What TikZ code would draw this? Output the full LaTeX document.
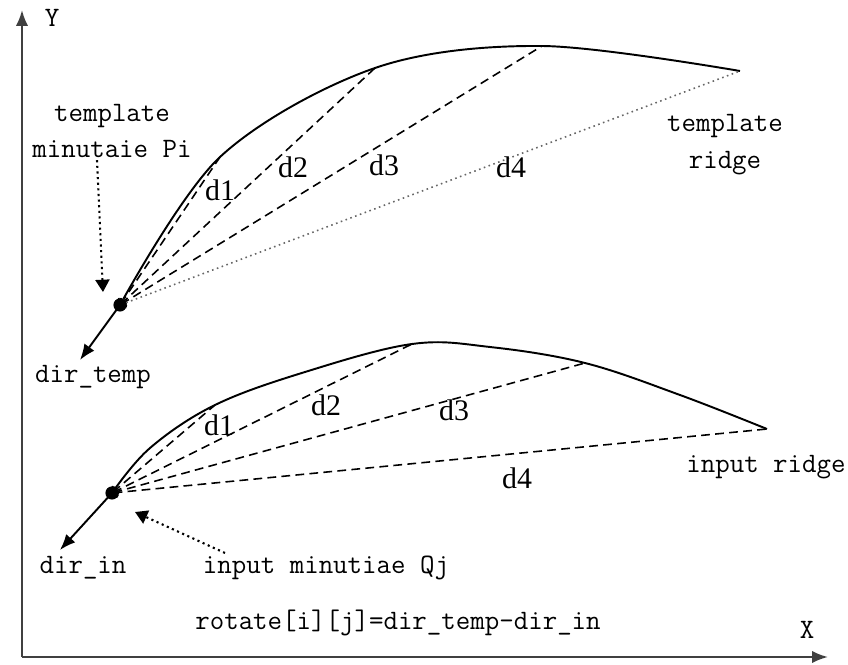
\documentclass[tikz,border=0pt]{standalone}
\usepackage{fontspec}
\setmainfont{Liberation Serif}
\usetikzlibrary{arrows.meta}
\begin{document}
\begin{tikzpicture}[x=0.02cm, y=-0.02cm,
    lbl/.style={font=\ttfamily\fontsize{16}{21}\selectfont, inner sep=1pt, align=center},
    dlbl/.style={font=\fontsize{17}{19}\selectfont, inner sep=1pt},
    axis/.style={line width=1.3pt, black!75, -{Latex[length=9pt,width=7pt]}},
    ridge/.style={line width=1.1pt},
    dist/.style={dash pattern=on 5pt off 3pt, line width=0.9pt, {To[length=3pt]}-},
    far/.style={dotted, line width=0.9pt, black!60, {To[length=3pt]}-},
    dir/.style={line width=1.1pt, -{Latex[length=9pt,width=7pt]}},
    hint/.style={dotted, line width=1.2pt, -{Triangle[length=7pt,width=8pt]}},
    dot/.style={circle, fill, inner sep=0pt, minimum size=7.5pt}]
    \useasboundingbox (0,0) rectangle (848,665);
    % axes
    \coordinate (o) at (22,657); \coordinate (ytip) at (22,10); \coordinate (xtip) at (828,657);
    \draw[axis] (o) -- (ytip); \draw[axis] (o) -- (xtip);
    \node[lbl] (ylab) at (52,18) {Y}; \node[lbl] (xlab) at (807,630) {X};
    % template ridge
    \coordinate (Pi) at (120,305);
    \coordinate (t1) at (220,157); \coordinate (t2) at (375,68); \coordinate (t3) at (542,46); \coordinate (t4) at (740,71);
    \draw[ridge] plot[smooth, tension=0.55] coordinates {(Pi) (t1) (t2) (t3) (t4)};
    \draw[dist] (Pi) -- (t1); \draw[dist] (Pi) -- (t2); \draw[dist] (Pi) -- (t3);
    \draw[far] (Pi) -- (t4);
    \node[dot] (Pdot) at (Pi) {};
    \node[dlbl] (td1) at (220,190) {d1}; \node[dlbl] (td2) at (293,167) {d2};
    \node[dlbl] (td3) at (384,165) {d3}; \node[dlbl] (td4) at (511,167) {d4};
    \node[lbl] (tmin) at (112,131) {template\\minutaie Pi};
    \node[lbl] (tridge) at (725,145) {template\\ridge};
    \node[lbl] (dtemp) at (93,377) {dir\_temp};
    \coordinate (tdir) at (80,360); \coordinate (thint) at (103,292);
    \draw[dir] (Pi) -- (tdir);
    \draw[hint] (tmin.south -| 97,0) -- (thint);
    % input ridge
    \coordinate (Qj) at (112,493);
    \coordinate (q1) at (215,405); \coordinate (q2) at (412,344); \coordinate (q3) at (585,363); \coordinate (q4) at (767,429);
    \draw[ridge] plot[smooth, tension=0.6] coordinates {(Qj) (150,448) (q1) (305,372) (q2) (490,347) (q3) (680,395) (q4)};
    \draw[dist] (Qj) -- (q1); \draw[dist] (Qj) -- (q2); \draw[dist] (Qj) -- (q3); \draw[dist] (Qj) -- (q4);
    \node[dot] (Qdot) at (Qj) {};
    \node[dlbl] (id1) at (219,425) {d1}; \node[dlbl] (id2) at (326,405) {d2};
    \node[dlbl] (id3) at (454,410) {d3}; \node[dlbl] (id4) at (517,478) {d4};
    \node[lbl] (iridge) at (766,467) {input ridge};
    \node[lbl] (imin) at (326,568) {input minutiae Qj};
    \node[lbl] (din) at (83,568) {dir\_in};
    \coordinate (idir) at (60,550); \coordinate (ihint) at (135,512);
    \draw[dir] (Qj) -- (idir);
    \draw[hint] (225,553) -- (ihint); % from the label
    \node[lbl] (rot) at (398,623) {rotate[i][j]=dir\_temp-dir\_in};
\end{tikzpicture}
\end{document}
